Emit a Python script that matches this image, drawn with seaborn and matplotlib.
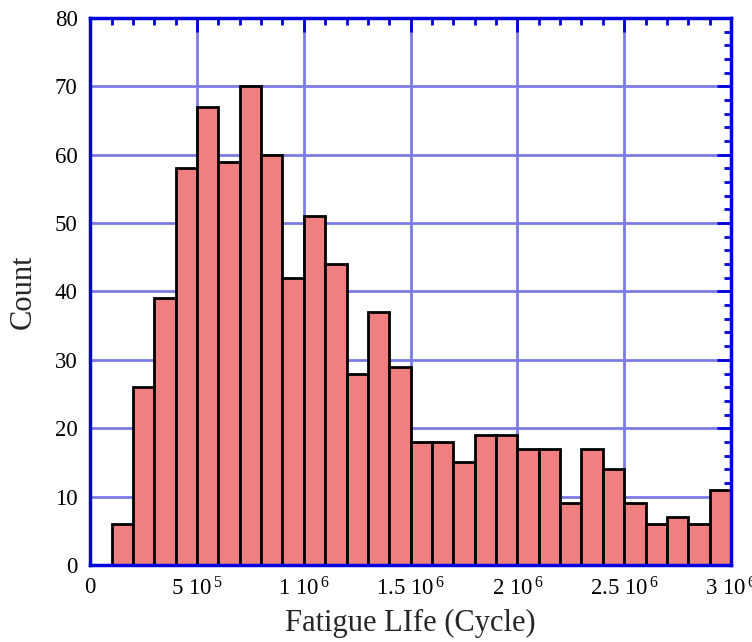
import numpy as np
import pandas as pd
import seaborn as sns
import matplotlib
matplotlib.use('Agg')
import matplotlib.pyplot as plt
from matplotlib.ticker import MultipleLocator, FixedLocator

# bin edges (cycles) and counts
bin_edges = [i * 1e5 for i in range(1, 31)]
counts = [6, 26, 39, 58, 67, 59, 70, 60, 42, 51, 44, 28, 37, 29,
          18, 18, 15, 19, 19, 17, 17, 9, 17, 14, 9, 6, 7, 6, 11]
x_ticks = [0, 5e5, 1e6, 1.5e6, 2e6, 2.5e6, 3e6]
x_ticklabels = ['0', r'5 10$^{\,5}$', r'1 10$^{\,6}$', r'1.5 10$^{\,6}$',
                r'2 10$^{\,6}$', r'2.5 10$^{\,6}$', r'3 10$^{\,6}$']

mids = [(a + b) / 2 for a, b in zip(bin_edges[:-1], bin_edges[1:])]
df = pd.DataFrame({'life': mids, 'n': counts})

sns.set_style('white')
plt.rcParams['font.family'] = ['Liberation Serif', 'DejaVu Serif']
plt.rcParams['mathtext.fontset'] = 'custom'
plt.rcParams['mathtext.rm'] = 'Liberation Serif'
plt.rcParams['mathtext.it'] = 'Liberation Serif'

blue = '#0000dd'
grid_c = '#7b7be6'

fig = plt.figure(figsize=(7.52, 6.42), dpi=100)
ax = fig.add_axes([0.12, 0.12, 0.852, 0.852])

sns.histplot(data=df, x='life', weights='n', bins=bin_edges, ax=ax,
             color='#f08080', edgecolor='black', linewidth=2, alpha=1)

ax.set_xlim(0, 3e6)
ax.set_ylim(0, 80)
ax.set_axisbelow(True)
ax.xaxis.set_major_locator(FixedLocator(x_ticks))
ax.set_xticklabels(x_ticklabels)
ax.xaxis.set_minor_locator(MultipleLocator(1e5))
ax.yaxis.set_major_locator(MultipleLocator(10))
ax.yaxis.set_minor_locator(MultipleLocator(2))
ax.grid(True, which='major', color=grid_c, linewidth=2)

ax.tick_params(which='both', direction='in', top=True, right=True,
               color=blue, labelsize=16.5, labelcolor='black')
ax.tick_params(which='major', length=10, width=2, pad=9)
ax.tick_params(which='minor', length=5, width=2)
for s in ax.spines.values():
    s.set_color(blue)
    s.set_linewidth(2.5)

ax.set_xlabel('Fatigue LIfe (Cycle)', fontsize=22, labelpad=6)
ax.set_ylabel('Count', fontsize=22, labelpad=12)

fig.savefig('out.png', dpi=100)
